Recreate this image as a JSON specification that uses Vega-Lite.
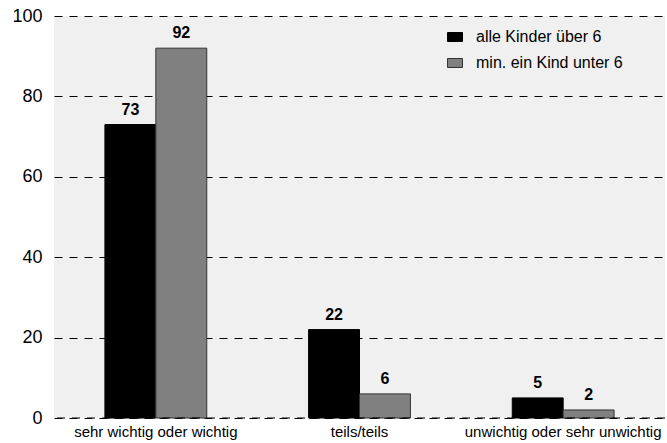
{
  "$schema": "https://vega.github.io/schema/vega-lite/v6.json",
  "autosize": "none",
  "width": 611,
  "height": 402,
  "padding": {"left": 54, "top": 16, "right": 0, "bottom": 25},
  "background": "#ffffff",
  "config": {
    "font": "Liberation Sans",
    "view": {"fill": "#f0f0f0", "stroke": null}
  },
  "data": {
    "values": [
      {"kategorie": "sehr wichtig oder wichtig", "gruppe": "alle Kinder über 6", "wert": 73},
      {"kategorie": "sehr wichtig oder wichtig", "gruppe": "min. ein Kind unter 6", "wert": 92},
      {"kategorie": "teils/teils", "gruppe": "alle Kinder über 6", "wert": 22},
      {"kategorie": "teils/teils", "gruppe": "min. ein Kind unter 6", "wert": 6},
      {"kategorie": "unwichtig oder sehr unwichtig", "gruppe": "alle Kinder über 6", "wert": 5},
      {"kategorie": "unwichtig oder sehr unwichtig", "gruppe": "min. ein Kind unter 6", "wert": 2}
    ]
  },
  "encoding": {
    "x": {
      "field": "kategorie",
      "type": "nominal",
      "sort": null,
      "scale": {"paddingInner": 0.5, "paddingOuter": 0.25},
      "axis": {
        "title": null,
        "labelAngle": 0,
        "labelFontSize": 15,
        "labelColor": "#000000",
        "labelPadding": 6,
        "ticks": false,
        "domain": false,
        "labelLimit": 400
      }
    },
    "xOffset": {"field": "gruppe", "type": "nominal", "sort": null},
    "y": {
      "field": "wert",
      "type": "quantitative",
      "scale": {"domain": [0, 100], "nice": false},
      "axis": {
        "title": null,
        "values": [0, 20, 40, 60, 80, 100],
        "labelFontSize": 18,
        "labelColor": "#000000",
        "labelPadding": 12,
        "ticks": false,
        "domain": false,
        "gridColor": "#000000",
        "gridDash": [8, 7],
        "gridWidth": 1,
        "gridOpacity": 1
      }
    }
  },
  "layer": [
    {
      "mark": {"type": "bar", "strokeWidth": 1},
      "encoding": {
        "color": {
          "field": "gruppe",
          "type": "nominal",
          "sort": null,
          "scale": {"range": ["#000000", "#808080"]},
          "legend": {
            "title": null,
            "orient": "none",
            "legendX": 393,
            "legendY": 13,
            "labelFontSize": 16,
            "labelColor": "#000000",
            "symbolType": "M-1,-0.6H1V0.6H-1Z",
            "symbolSize": 225,
            "symbolStrokeColor": "#000000",
            "symbolStrokeWidth": 1,
            "rowPadding": 10,
            "labelOffset": 13
          }
        },
        "stroke": {
          "field": "gruppe",
          "type": "nominal",
          "sort": null,
          "scale": {"range": ["#000000", "#333333"]},
          "legend": null
        }
      }
    },
    {
      "mark": {"type": "text", "fontWeight": "bold", "fontSize": 16, "baseline": "bottom", "dy": -7, "color": "#000000"},
      "encoding": {
        "text": {"field": "wert", "type": "quantitative"}
      }
    },
    {
      "data": {"values": [{"null_linie": 0}]},
      "mark": {"type": "rule", "color": "#000000", "strokeDash": [8, 7], "strokeWidth": 1},
      "encoding": {
        "x": null,
        "xOffset": null,
        "y": {"field": "null_linie", "type": "quantitative"}
      }
    }
  ]
}
